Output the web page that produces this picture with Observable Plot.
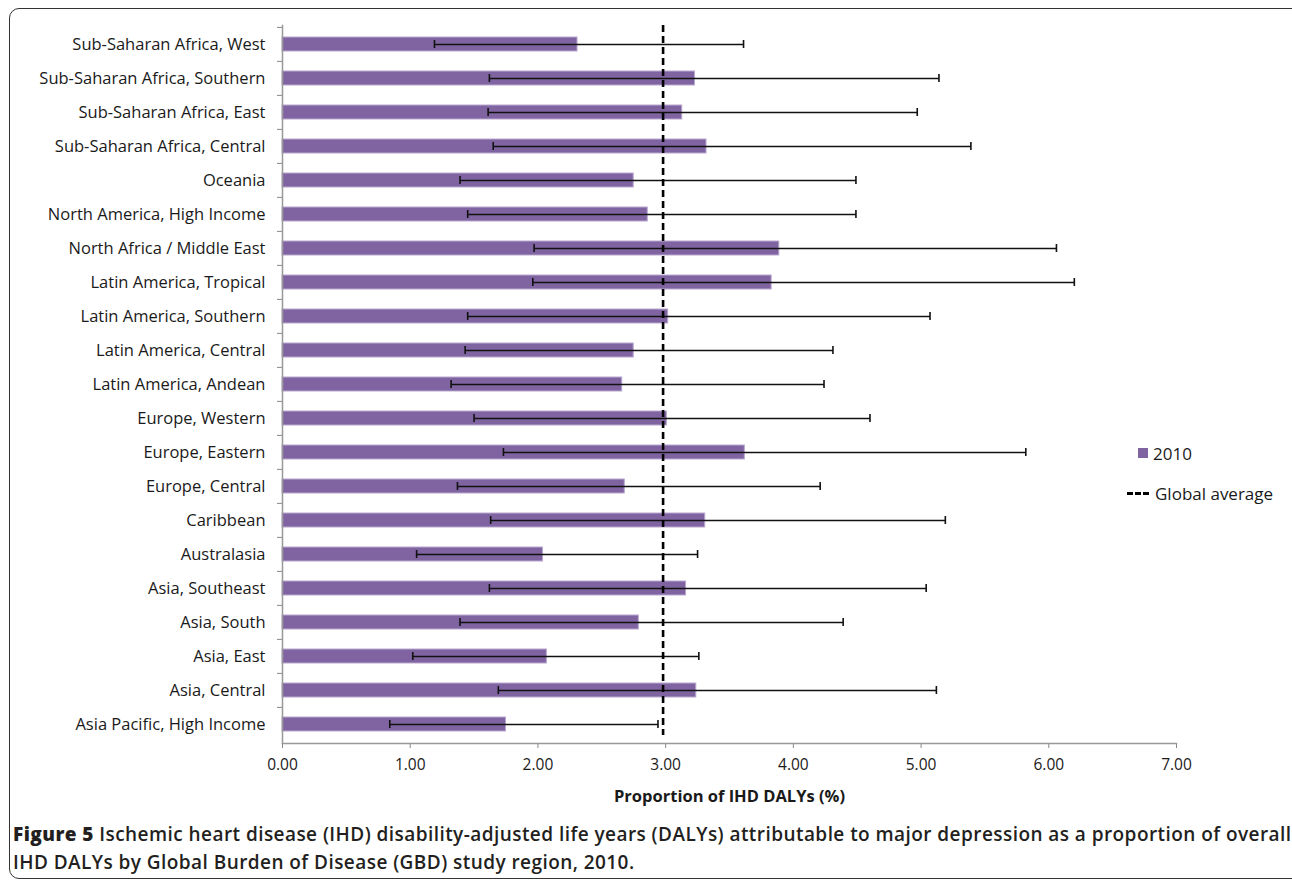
<!DOCTYPE html>
<html>
<head>
<meta charset="utf-8">
<script src="https://cdn.jsdelivr.net/npm/d3@7"></script>
<script src="https://cdn.jsdelivr.net/npm/@observablehq/plot@0.6"></script>
<style>
  html, body { margin: 0; padding: 0; background: #fff; }
  #wrap { position: relative; width: 1292px; height: 882px; overflow: hidden; font-family: "Open Sans", Lato, sans-serif; color: #1a1a1a; }
  #box { position: absolute; left: 9px; top: 8px; width: 1300px; height: 871px; border: 1.5px solid #333; border-radius: 10px; box-sizing: border-box; }
  #chart { position: absolute; left: 0; top: 0; }
  #legend { position: absolute; left: 1127px; top: 440px; font-size: 17px; }
  .lg-row { display: flex; align-items: center; height: 26px; }
  .sw { width: 10px; height: 10px; background: #8064a2; margin-left: 11px; margin-right: 5px; }
  .dash { width: 22px; height: 0; border-top: 3px dashed #000; margin-right: 6px; }
  #caption { position: absolute; left: 13px; top: 820px; font-size: 19px; line-height: 28px; color: #231f20; white-space: nowrap; font-weight: 600; letter-spacing: 0.44px; }
  #caption b { font-weight: 800; }
</style>
</head>
<body>
<div id="wrap">
  <div id="box"></div>
  <div id="chart"></div>
  <div id="legend">
    <div class="lg-row"><div class="sw"></div><span>2010</span></div>
    <div class="lg-row" style="margin-top:14px"><div class="dash"></div><span>Global average</span></div>
  </div>
  <div id="caption"><b>Figure 5</b> Ischemic heart disease (IHD) disability-adjusted life years (DALYs) attributable to major depression as a proportion of overall<br>IHD DALYs by Global Burden of Disease (GBD) study region, 2010.</div>
</div>
<script>
const regions = [
  "Sub-Saharan Africa, West",
  "Sub-Saharan Africa, Southern",
  "Sub-Saharan Africa, East",
  "Sub-Saharan Africa, Central",
  "Oceania",
  "North America, High Income",
  "North Africa / Middle East",
  "Latin America, Tropical",
  "Latin America, Southern",
  "Latin America, Central",
  "Latin America, Andean",
  "Europe, Western",
  "Europe, Eastern",
  "Europe, Central",
  "Caribbean",
  "Australasia",
  "Asia, Southeast",
  "Asia, South",
  "Asia, East",
  "Asia, Central",
  "Asia Pacific, High Income"
];
const values2010 = [2.31, 3.23, 3.13, 3.32, 2.75, 2.86, 3.89, 3.83, 3.02, 2.75, 2.66, 3.01, 3.62, 2.68, 3.31, 2.04, 3.16, 2.79, 2.07, 3.24, 1.75];
const lower = [1.19, 1.62, 1.61, 1.65, 1.39, 1.45, 1.97, 1.96, 1.45, 1.43, 1.32, 1.50, 1.73, 1.37, 1.63, 1.05, 1.62, 1.39, 1.02, 1.69, 0.84];
const upper = [3.61, 5.14, 4.97, 5.39, 4.49, 4.49, 6.06, 6.20, 5.07, 4.31, 4.24, 4.60, 5.82, 4.21, 5.19, 3.25, 5.04, 4.39, 3.26, 5.12, 2.94];
const globalAverage = [2.98];
const xTicks = [0, 1, 2, 3, 4, 5, 6, 7];
const xLabel = "Proportion of IHD DALYs (%)";

const data = regions.map((r, i) => ({region: r, value: values2010[i], lo: lower[i], hi: upper[i]}));

const chart = Plot.plot({
  width: 1292,
  height: 815,
  marginLeft: 282,
  marginRight: 116,
  marginTop: 25,
  marginBottom: 72,
  style: {fontFamily: "'Open Sans', Lato, sans-serif", fontSize: "16px", color: "#1a1a1a", background: "transparent"},
  x: {domain: [0, 7]},
  y: {domain: regions, paddingInner: 0.6, paddingOuter: 0.3},
  marks: [
    Plot.barX(data, {x: "value", y: "region", fill: "#8064a2", stroke: "#b9a8d0", strokeWidth: 1}),
    Plot.link(data, {x1: "lo", x2: "hi", y1: "region", y2: "region", stroke: "#111", strokeWidth: 1.6}),
    Plot.tickX(data, {x: "lo", y: "region", stroke: "#111", strokeWidth: 1.6, insetTop: 3, insetBottom: 3}),
    Plot.tickX(data, {x: "hi", y: "region", stroke: "#111", strokeWidth: 1.6, insetTop: 3, insetBottom: 3}),
    Plot.ruleX(globalAverage, {stroke: "#000", strokeWidth: 2.6, strokeDasharray: "7,4", insetBottom: 8}),
    Plot.axisY({tickSize: 0, tickPadding: 17, label: null, fontSize: 16.5}),
    Plot.axisY({tickSize: 5, tickFormat: () => "", dy: -17.1, stroke: "#888", label: null}),
    Plot.axisX({ticks: xTicks, tickFormat: d => d.toFixed(2), tickSize: 5, tickPadding: 10, stroke: "#888", label: null, fontSize: 15.5}),
    Plot.frame({anchor: "bottom", stroke: "#999", strokeWidth: 1.5}),
    Plot.frame({anchor: "left", stroke: "#999", strokeWidth: 1.5}),
    Plot.text([xLabel], {frameAnchor: "bottom", dy: 58, fontWeight: "bold", fontSize: 16.5, fill: "#1a1a1a"})
  ]
});
document.getElementById("chart").appendChild(chart);
</script>
</body>
</html>
